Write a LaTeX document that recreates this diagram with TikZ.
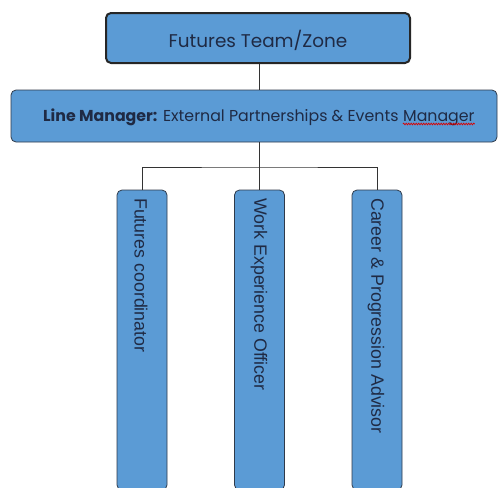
\documentclass[tikz,border=0pt]{standalone}
\usepackage{fontspec}
\setmainfont{Poppins}
\newfontfamily\childfont{Liberation Sans}
\usetikzlibrary{decorations.pathmorphing}
\definecolor{boxblue}{HTML}{5B9BD5}
\definecolor{navytext}{HTML}{1F2A44}
\definecolor{edgegray}{HTML}{2F3A4A}
\begin{document}
\begin{tikzpicture}[x=1pt,y=-1pt,
  topbox/.style={draw=black!85,line width=2pt,fill=boxblue,rounded corners=5pt,minimum width=304pt,minimum height=50pt,inner sep=0pt},
  mgrbox/.style={draw=edgegray,line width=0.8pt,fill=boxblue,rounded corners=5pt,minimum width=486pt,minimum height=52pt,inner sep=0pt},
  childbox/.style={draw=edgegray,line width=0.8pt,fill=boxblue,rounded corners=5pt,minimum width=50pt,minimum height=300pt,inner sep=0pt},
  childtext/.style={rotate=-90,anchor=west,text=navytext,font=\childfont\fontsize{17.8}{20}\selectfont,inner sep=0pt},
  mgrtxt/.style={text=navytext,font=\fontsize{15.8}{18}\selectfont,inner sep=0pt,anchor=base west},
  spell/.style={draw=red!85!black,line width=0.7pt,decorate,decoration={snake,amplitude=0.8pt,segment length=2.5pt}},
  conn/.style={draw=black!80,line width=0.8pt}]
\useasboundingbox (0,0) rectangle (499,488);
\node[topbox] (top) at (258,38) {};
\node[text=navytext,font=\fontsize{18.4}{22}\selectfont,inner sep=0pt] (toptext) at (258,40) {Futures Team/Zone};
\node[mgrbox] (mgr) at (254,116) {};
\node[mgrtxt] (mgrtext) at (43,121) {\textbf{Line Manager:} External Partnerships \& Events\ \null};
\node[mgrtxt] (mgrword) at (mgrtext.base east) {Manager};
\draw[spell] ([yshift=-3pt]mgrword.base west) -- ([yshift=-3pt]mgrword.base east);
\node[childbox] (c1) at (142,340) {};
\node[childbox] (c2) at (259.5,340) {};
\node[childbox] (c3) at (377,340) {};
\node[childtext] (t1) at (141,198) {Futures coordinator};
\node[childtext] (t2) at (259,198) {Work Experience Officer};
\node[childtext] (t3) at (376,198) {Career \& Progression Advisor};
\coordinate (bus) at (259.5,167);
\draw[conn] (top.south -| bus) -- (mgr.north -| bus);
\draw[conn] (mgr.south -| bus) -- (c2.north);
\draw[conn] (c1.north) |- (bus) -| (c3.north);
\end{tikzpicture}
\end{document}
